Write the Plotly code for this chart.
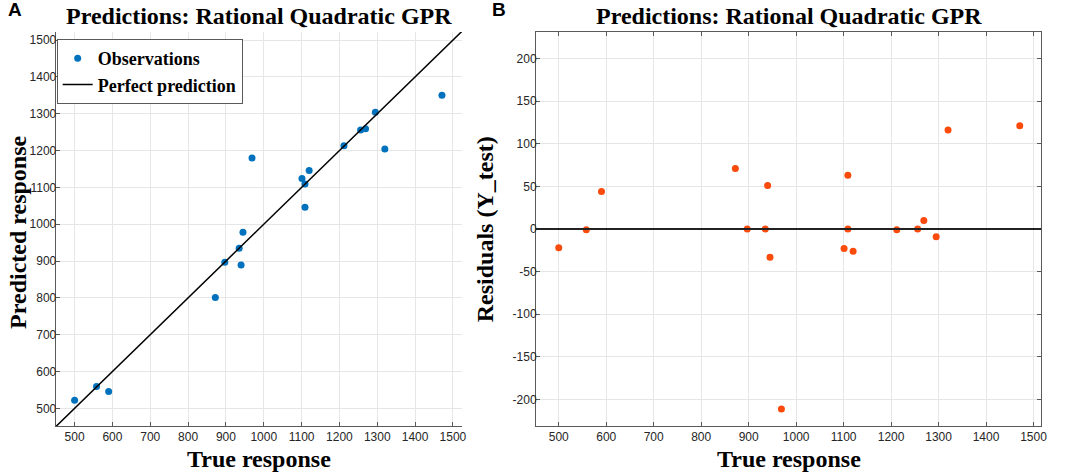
import plotly.graph_objects as go
from plotly.subplots import make_subplots

# test set: true response vs predicted response
true_resp = [500, 558, 590, 872, 897, 935, 940, 945, 969, 1101,
             1109, 1109, 1120, 1212, 1256, 1269, 1295, 1320, 1471]
pred_resp = [522, 559, 546, 801, 897, 935, 889, 978, 1180, 1124,
             1046, 1109, 1146, 1213, 1256, 1259, 1304, 1204, 1350]
residuals = [t - p for t, p in zip(true_resp, pred_resp)]

perfect_line = [440, 1540]
x_ticks = list(range(500, 1501, 100))
y_ticks_a = list(range(500, 1501, 100))
y_ticks_b = list(range(-200, 201, 50))

W, H = 1065, 475
BLUE = '#0072BD'
ORANGE = '#FA4A0C'
SERIF = 'Liberation Serif'
SANS = 'Liberation Sans'
GRID = '#E6E6E6'
AXIS = '#5A5A5A'

def px(x):
    return x / W

def py(y):
    return 1 - y / H

fig = make_subplots(rows=1, cols=2)

fig.add_trace(go.Scatter(x=true_resp, y=pred_resp, mode='markers', name='Observations',
                         marker=dict(color=BLUE, size=7)), row=1, col=1)
fig.add_trace(go.Scatter(x=perfect_line, y=perfect_line, mode='lines', name='Perfect prediction',
                         line=dict(color='black', width=1.5)), row=1, col=1)
fig.add_trace(go.Scatter(x=true_resp, y=residuals, mode='markers', showlegend=False,
                         marker=dict(color=ORANGE, size=7)), row=1, col=2)
fig.add_hline(y=0, line=dict(color='#222222', width=2), row=1, col=2)

tick_font = dict(family=SANS, size=12, color='#262626')
common = dict(showgrid=True, gridcolor=GRID, gridwidth=1, zeroline=False, showline=True,
              linecolor=AXIS, linewidth=1, ticks='inside', ticklen=4, tickcolor=AXIS,
              tickfont=tick_font)

# MATLAB prints a plain hyphen for negatives
tx = [str(v) for v in x_ticks]
tya = [str(v) for v in y_ticks_a]
tyb = [str(v) for v in y_ticks_b]

fig.update_xaxes(domain=[px(56), px(465)], range=[450, 1525], tickvals=x_ticks, ticktext=tx,
                 **common, row=1, col=1)
fig.update_yaxes(domain=[py(426), py(32)], range=[452, 1522], tickvals=y_ticks_a, ticktext=tya,
                 ticklabelstandoff=-4, **common, row=1, col=1)
fig.update_xaxes(domain=[px(539), px(1047)], range=[452, 1516], tickvals=x_ticks, ticktext=tx,
                 mirror='ticks', **common, row=1, col=2)
fig.update_yaxes(domain=[py(426), py(32)], range=[-231, 231], tickvals=y_ticks_b, ticktext=tyb,
                 ticklabelstandoff=-4, mirror='ticks', **common, row=1, col=2)

title = '<b>Predictions: Rational Quadratic GPR</b>'
big = dict(family=SERIF, size=24, color='black')
notes = [
    dict(text=title, x=px(260), y=py(16), font=big),
    dict(text=title, x=px(793), y=py(16), font=big),
    dict(text='<b>True response</b>', x=px(260), y=py(459), font=big),
    dict(text='<b>True response</b>', x=px(793), y=py(459), font=big),
    dict(text='<b>Predicted response</b>', x=px(18), y=py(232), textangle=-90, font=big),
    dict(text='<b>Residuals (Y_test)</b>', x=px(488), y=py(229), textangle=-90, font=big),
    dict(text='<b>A</b>', x=px(15), y=py(10), font=dict(family=SANS, size=19, color='black')),
    dict(text='<b>B</b>', x=px(502), y=py(10), font=dict(family=SANS, size=19, color='black')),
]
for n in notes:
    fig.add_annotation(xref='paper', yref='paper', xanchor='center', yanchor='middle',
                       showarrow=False, **n)

fig.update_layout(
    width=W, height=H,
    margin=dict(l=0, r=0, t=0, b=0),
    paper_bgcolor='white', plot_bgcolor='white',
    showlegend=True,
    legend=dict(x=px(57), y=py(39), xanchor='left', yanchor='top',
                bgcolor='white', bordercolor=AXIS, borderwidth=1,
                font=dict(family=SERIF, size=18, color='black', weight='bold'),
                tracegroupgap=0),
)

# drop the browser's default body margin so the figure fills the window
fig.write_html('out.html', config={'displayModeBar': False},
               post_script="document.body.style.margin = '0';")
